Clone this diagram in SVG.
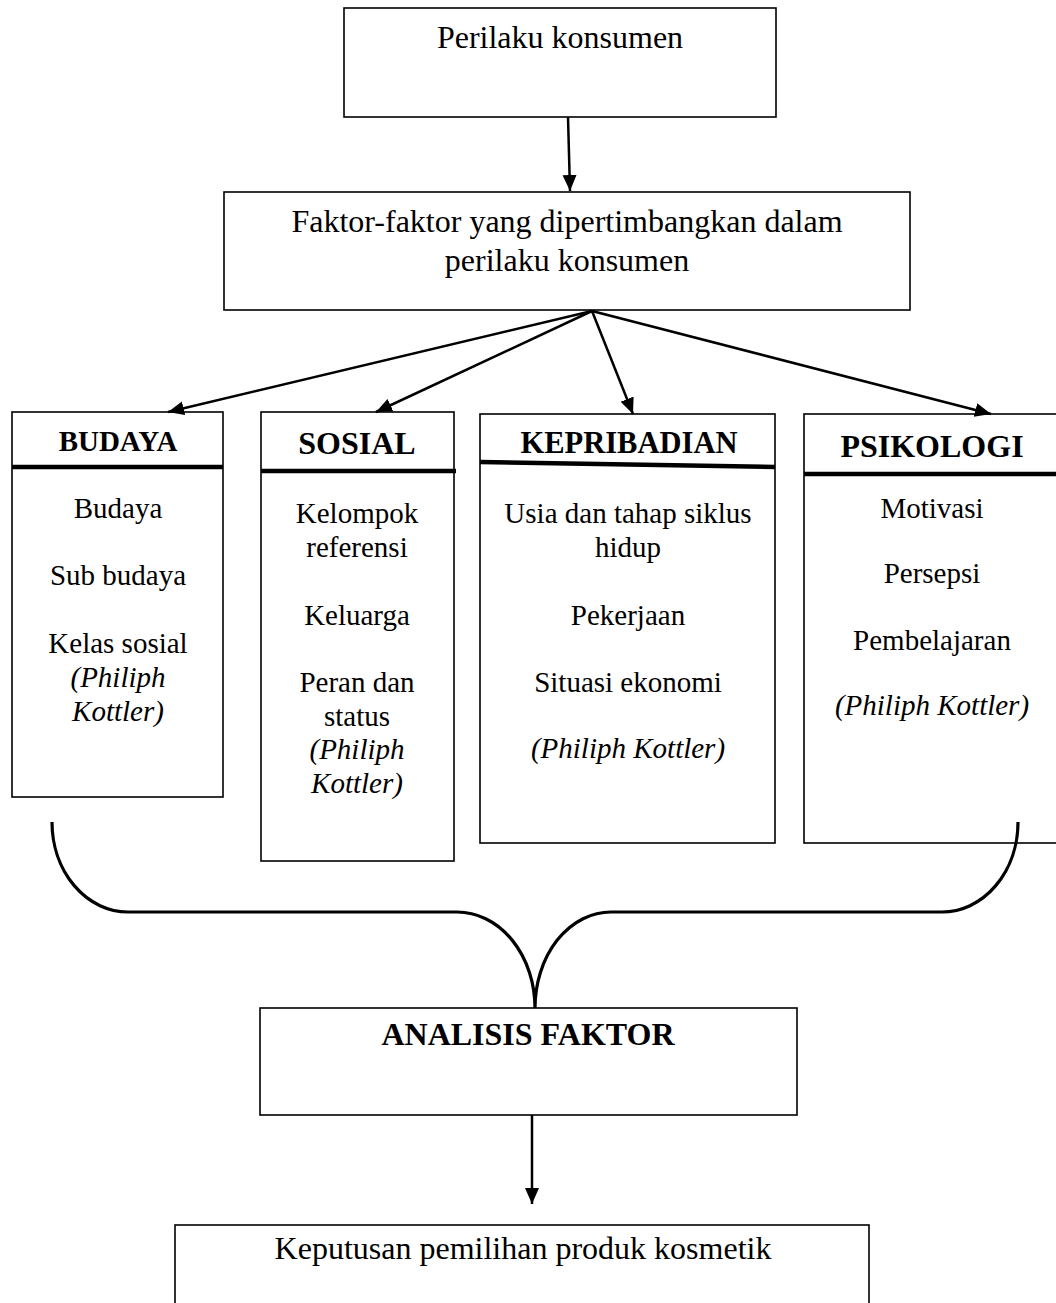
<svg xmlns="http://www.w3.org/2000/svg" width="1056" height="1303" viewBox="0 0 1056 1303">
<style>
.box{fill:#fff;stroke:#000;stroke-width:1.6}
.sep{stroke:#000;stroke-width:4.5;fill:none}
.t{font-family:"Liberation Serif","Times New Roman",serif;fill:#000;text-anchor:middle}
.b{font-weight:bold}
.i{font-style:italic}
.conn{stroke:#000;stroke-width:2.5;fill:none}
.brace{stroke:#000;stroke-width:3.2;fill:none}
</style>
<defs>
<marker id="ah" markerUnits="userSpaceOnUse" markerWidth="18" markerHeight="16" refX="16" refY="7" orient="auto">
<path d="M0,0 L16,7 L0,14 Z" fill="#000"/>
</marker>
</defs>
<rect width="1056" height="1303" fill="#fff"/>

<g id="node-perilaku">
<rect class="box" x="344" y="8" width="432" height="109"/>
<text class="t" x="560" y="48" font-size="32">Perilaku konsumen</text>
</g>

<g id="node-faktor">
<rect class="box" x="224" y="192" width="686" height="118"/>
<text class="t" x="567" y="232" font-size="32">Faktor-faktor yang dipertimbangkan dalam</text>
<text class="t" x="567" y="271" font-size="32">perilaku konsumen</text>
</g>

<g id="node-budaya">
<rect class="box" x="12" y="412" width="211" height="385"/>
<line class="sep" x1="12" y1="467" x2="223" y2="467"/>
<text class="t b" x="118" y="451" font-size="29">BUDAYA</text>
<text class="t" x="118" y="518" font-size="29">Budaya</text>
<text class="t" x="118" y="585" font-size="29">Sub budaya</text>
<text class="t" x="118" y="653" font-size="29">Kelas sosial</text>
<text class="t i" x="118" y="687" font-size="29">(Philiph</text>
<text class="t i" x="118" y="721" font-size="29">Kottler)</text>
</g>

<g id="node-sosial">
<rect class="box" x="261" y="412" width="193" height="449"/>
<line class="sep" x1="261" y1="471" x2="456" y2="471"/>
<text class="t b" x="357" y="454" font-size="32">SOSIAL</text>
<text class="t" x="357" y="523" font-size="29">Kelompok</text>
<text class="t" x="357" y="557" font-size="29">referensi</text>
<text class="t" x="357" y="625" font-size="29">Keluarga</text>
<text class="t" x="357" y="692" font-size="29">Peran dan</text>
<text class="t" x="357" y="726" font-size="29">status</text>
<text class="t i" x="357" y="759" font-size="29">(Philiph</text>
<text class="t i" x="357" y="793" font-size="29">Kottler)</text>
</g>

<g id="node-kepribadian">
<rect class="box" x="480" y="414" width="295" height="429"/>
<line class="sep" x1="480" y1="462" x2="775" y2="467"/>
<text class="t b" x="629" y="453" font-size="30.5">KEPRIBADIAN</text>
<text class="t" x="628" y="523" font-size="29">Usia dan tahap siklus</text>
<text class="t" x="628" y="557" font-size="29">hidup</text>
<text class="t" x="628" y="625" font-size="29">Pekerjaan</text>
<text class="t" x="628" y="692" font-size="29">Situasi ekonomi</text>
<text class="t i" x="628" y="758" font-size="29">(Philiph Kottler)</text>
</g>

<g id="node-psikologi">
<rect class="box" x="804" y="414" width="260" height="429"/>
<line class="sep" x1="804" y1="474" x2="1060" y2="474"/>
<text class="t b" x="932" y="457" font-size="32">PSIKOLOGI</text>
<text class="t" x="932" y="518" font-size="29">Motivasi</text>
<text class="t" x="932" y="583" font-size="29">Persepsi</text>
<text class="t" x="932" y="650" font-size="29">Pembelajaran</text>
<text class="t i" x="932" y="715" font-size="29">(Philiph Kottler)</text>
</g>

<g id="node-analisis">
<rect class="box" x="260" y="1008" width="537" height="107"/>
<text class="t b" x="528" y="1045" font-size="32">ANALISIS FAKTOR</text>
</g>

<g id="node-keputusan">
<rect class="box" x="175" y="1225" width="694" height="100"/>
<text class="t" x="523" y="1259" font-size="32">Keputusan pemilihan produk kosmetik</text>
</g>

<g id="connectors">
<line class="conn" x1="568" y1="117" x2="570" y2="191" marker-end="url(#ah)"/>
<line class="conn" x1="592" y1="311" x2="168" y2="412" marker-end="url(#ah)"/>
<line class="conn" x1="592" y1="311" x2="376" y2="412" marker-end="url(#ah)"/>
<line class="conn" x1="592" y1="311" x2="633" y2="414" marker-end="url(#ah)"/>
<line class="conn" x1="592" y1="311" x2="991" y2="414" marker-end="url(#ah)"/>
<path class="brace" d="M52,822 A76,90 0 0 0 128,912 L457,912 A78,96 0 0 1 535,1008 A76,96 0 0 1 611,912 L942,912 A76,90 0 0 0 1018,822"/>
<line class="conn" x1="532" y1="1115" x2="532" y2="1204" marker-end="url(#ah)"/>
</g>
</svg>
